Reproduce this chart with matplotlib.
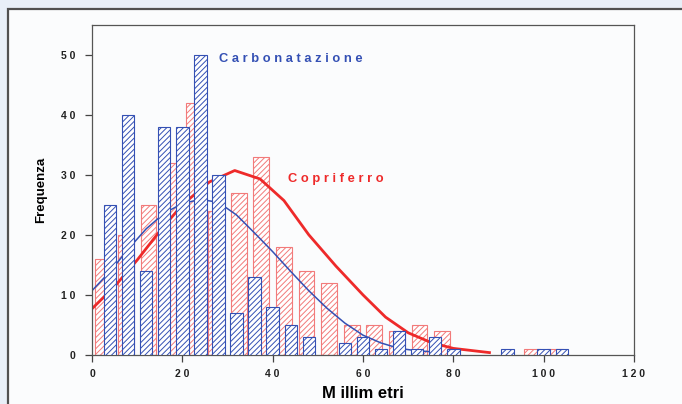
import matplotlib.pyplot as plt
from matplotlib.patches import Rectangle

# frequency histograms: concrete cover ("Copriferro") vs carbonation depth
red_centers = [2.5, 7.5, 12.5, 17.5, 22.5, 27.5, 32.5, 37.5, 42.5, 47.5, 52.5,
               57.5, 62.5, 67.5, 72.5, 77.5, 97.5, 102.5]
red_counts = [16, 20, 25, 32, 42, 24, 27, 33, 18, 14, 12, 5, 5, 4, 5, 4, 1, 1]

blue_centers = [4, 8, 12, 16, 20, 24, 28, 32, 36, 40, 44, 48, 56, 60, 64, 68,
                72, 76, 80, 92, 100, 104]
blue_counts = [25, 40, 14, 38, 38, 50, 30, 7, 13, 8, 5, 3, 2, 3, 1, 4, 1, 3, 1,
               1, 1, 1]

# fitted curves
red_curve_x = [0, 5, 10, 15, 20, 26, 31.6, 37.2, 42.5, 48, 54, 60, 65, 70, 75, 80, 88]
red_curve_y = [7.7, 11.4, 15.8, 20.6, 25.0, 28.8, 30.7, 29.3, 25.7, 20.0, 14.8,
               10.0, 6.3, 3.7, 2.1, 1.1, 0.4]
blue_curve_x = [0, 4, 8, 12, 16, 20, 24, 28, 32, 36, 40, 44, 48, 52, 56, 60, 64,
                68, 72, 76]
blue_curve_y = [10.7, 13.9, 17.6, 21.0, 23.6, 25.2, 25.9, 25.4, 23.3, 20.3, 17.2,
                13.9, 10.7, 7.8, 5.3, 3.3, 2.0, 1.1, 0.7, 0.5]

xticks = [0, 20, 40, 60, 80, 100, 120]
xtick_labels = ["0", "2 0", "4 0", "6 0", "8 0", "1 0 0", "1 2 0"]
yticks = [0, 10, 20, 30, 40, 50]
ytick_labels = ["0", "1 0", "2 0", "3 0", "4 0", "5 0"]

RED = "#ee2a2a"
RED_BAR = "#f27a7a"
BLUE = "#3450b4"

plt.rcParams['font.family'] = ['Liberation Sans', 'DejaVu Sans']
plt.rcParams['hatch.linewidth'] = 0.7

fig = plt.figure(figsize=(6.82, 4.04), dpi=100)
fig.patch.set_facecolor("#e8eff8")
fig.patches.append(Rectangle((8 / 682, -0.05), 1.1, 1.05 - 9 / 404,
                             transform=fig.transFigure, facecolor="#fbfcfd",
                             edgecolor="#505050", linewidth=1.6, zorder=-10))

ax = fig.add_axes([92 / 682, 49 / 404, 542 / 682, 330.5 / 404])
ax.set_zorder(1)
ax.set_facecolor("none")

ax.bar(red_centers, red_counts, width=3.5, facecolor="white", edgecolor=RED_BAR,
       hatch="//////", linewidth=0.8, zorder=1)
ax.plot(red_curve_x, red_curve_y, color=RED, linewidth=2.0, zorder=2)
ax.plot(blue_curve_x, blue_curve_y, color=BLUE, linewidth=1.1, zorder=2)
ax.bar(blue_centers, blue_counts, width=2.75, facecolor="white", edgecolor=BLUE,
       hatch="//////", linewidth=0.8, zorder=3)

ax.text(28.1, 49.2, "C a r b o n a t a z i o n e", color=BLUE, fontsize=9.3,
        fontweight="bold", va="center", ha="left", zorder=4)
ax.text(43.4, 29.3, "C o p r i f e r r o", color=RED, fontsize=9.3,
        fontweight="bold", va="center", ha="left", zorder=4)

ax.set_xlim(0, 120)
ax.set_ylim(0, 55)
ax.set_xticks(xticks)
ax.set_xticklabels(xtick_labels)
ax.set_yticks(yticks)
ax.set_yticklabels(ytick_labels)
ax.tick_params(axis="both", direction="out", length=5, width=0.9, color="#444444",
               labelsize=7.5, labelcolor="#222222")
ax.tick_params(axis="y", pad=7)
ax.tick_params(axis="x", pad=5)
for lbl in ax.get_xticklabels() + ax.get_yticklabels():
    lbl.set_fontweight("bold")
for sp in ax.spines.values():
    sp.set_color("#555555")
    sp.set_linewidth(0.9)

ax.set_xlabel("M illim etri", fontsize=12, fontweight="bold", labelpad=5)
ax.set_ylabel("Frequenza", fontsize=9.5, fontweight="bold", labelpad=10)

fig.savefig("out.png", dpi=100, facecolor=fig.get_facecolor())
